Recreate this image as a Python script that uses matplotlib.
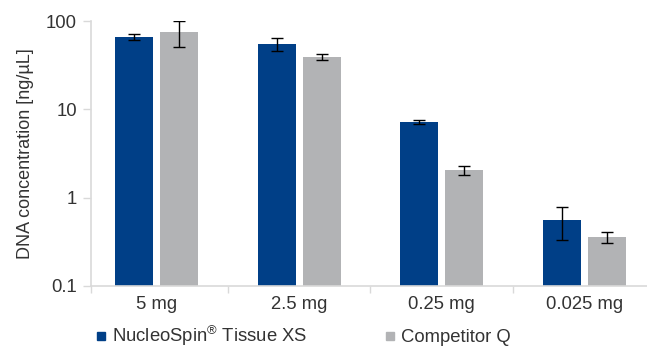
import matplotlib
matplotlib.use("Agg")
import matplotlib.pyplot as plt
from matplotlib.lines import Line2D
from matplotlib.ticker import FixedLocator, FixedFormatter, NullLocator
import numpy as np

plt.rcParams["font.family"] = ["Liberation Sans", "DejaVu Sans"]
plt.rcParams["mathtext.fontset"] = "custom"
plt.rcParams["mathtext.rm"] = "Liberation Sans"

categories = ["5 mg", "2.5 mg", "0.25 mg", "0.025 mg"]
nucleospin = [65.5, 55.0, 7.2, 0.56]
nucleospin_err = [5.0, 9.0, 0.35, 0.23]
competitor = [75.0, 39.0, 2.05, 0.36]
competitor_err = [24.0, 2.8, 0.23, 0.05]
series_names = ["NucleoSpin$^{\\mathregular{\u00ae}}$ Tissue XS", "Competitor Q"]

BLUE = "#003f87"
GRAY = "#b2b3b5"
TEXT = "#333333"
AXIS = "#d9d9d9"
FS = 13.3

fig = plt.figure(figsize=(6.47, 3.48), dpi=100)
ax = fig.add_axes([91 / 647, 62 / 348, 556 / 647, 265 / 348])

x = np.arange(len(categories))
w = 0.266
off = 0.158
err_kw = dict(ecolor="black", elinewidth=1.0, capsize=4.5, capthick=1.0)
ax.bar(x - off, nucleospin, w, yerr=nucleospin_err, color=BLUE, error_kw=err_kw, zorder=2)
ax.bar(x + off, competitor, w, yerr=competitor_err, color=GRAY, error_kw=err_kw, zorder=2)

ax.set_yscale("log")
ax.set_ylim(0.1, 100)
ax.set_xlim(-0.458, 3.437)

ax.yaxis.set_major_locator(FixedLocator([0.1, 1, 10, 100]))
ax.yaxis.set_major_formatter(FixedFormatter(["0.1", "1", "10", "100"]))
ax.yaxis.set_minor_locator(NullLocator())
ax.tick_params(axis="y", length=6, width=1, color=AXIS, labelcolor=TEXT, labelsize=FS, pad=4)

ax.set_xticks(x)
ax.set_xticklabels(categories)
ax.set_xticks([-0.458, 0.5, 1.5, 2.5], minor=True)
ax.tick_params(axis="x", which="major", length=0, labelcolor=TEXT, labelsize=FS, pad=7)
ax.tick_params(axis="x", which="minor", length=5, width=1, color=AXIS)

for side in ["top", "right"]:
    ax.spines[side].set_visible(False)
for side in ["left", "bottom"]:
    ax.spines[side].set_color(AXIS)
    ax.spines[side].set_linewidth(1.2)

ax.set_ylabel("DNA concentration [ng/\u00b5L]", color=TEXT, fontsize=13, labelpad=9)

handles = [
    Line2D([], [], marker="s", linestyle="none", color=BLUE, markersize=6),
    Line2D([], [], marker="s", linestyle="none", color=GRAY, markersize=6),
]
fig.legend(handles, series_names, loc="center left", bbox_to_anchor=(95 / 647, 12 / 348),
           ncol=2, frameon=False, fontsize=FS, labelcolor=TEXT, handlelength=0.6,
           handletextpad=0.3, columnspacing=4.2, borderpad=0, borderaxespad=0)

fig.savefig("out.png", dpi=100)
